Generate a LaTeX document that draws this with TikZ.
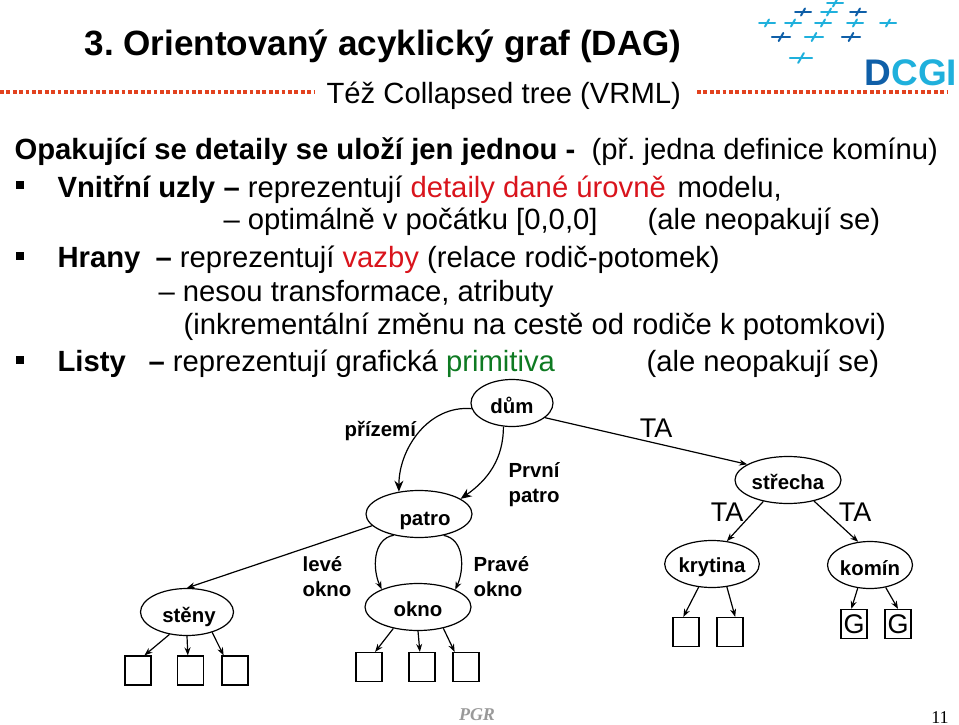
\documentclass[tikz,border=0pt]{standalone}
\usepackage{fontspec}
\setmainfont{Liberation Sans}
\newfontfamily\serifpart{Liberation Serif}
\usetikzlibrary{arrows.meta}
\usetikzlibrary{shapes.geometric}
\definecolor{redtext}{HTML}{D9141C}
\definecolor{greentext}{HTML}{0E7A22}
\definecolor{dotred}{HTML}{E2421F}
\definecolor{logodark}{HTML}{0F5FA8}
\definecolor{logolight}{HTML}{1FB0DC}
\frenchspacing
\tikzset{
  body/.style={anchor=base west,inner sep=0pt,font=\fontsize{29.25}{29.25}\selectfont},
  heavy/.style={body,font=\fontsize{29.25}{29.25}\selectfont\bfseries},
  lab/.style={anchor=base west,inner sep=0pt,align=left,font=\fontsize{20.4}{25}\selectfont\bfseries},
  ta/.style={inner sep=0pt,font=\fontsize{27}{27}\selectfont},
  elli/.style={draw,ellipse,inner sep=0pt,minimum height=47,text height=20,text depth=0,font=\fontsize{20.4}{20.4}\selectfont\bfseries},
  leaf/.style={draw,rectangle,inner sep=0pt,minimum width=26,minimum height=29,font=\fontsize{27}{27}\selectfont},
  bullet/.style={fill,rectangle,inner sep=0pt,minimum size=8},
  dots/.style={dotred,line width=4.5,dash pattern=on 3.8 off 2.6},
  tick/.style={line width=2,line cap=round},
  bigtip/.style={-{Stealth[length=11,width=9]}}
}
\begin{document}
\begin{tikzpicture}[x=1pt,y=-1pt,>={Stealth[length=8,width=6]},line width=1.2]
      \useasboundingbox (0,0) rectangle (959,725);
      % heading
      \node (title) [anchor=base west,inner sep=0pt,font=\fontsize{35.1}{35.1}\selectfont\bfseries] at (84,56) {3. Orientovaný acyklický graf (DAG)};
      \node (subtitle) [body] at (326,103) {Též Collapsed tree (VRML)};
      \coordinate (dotsA) at (0,92);
      \coordinate (dotsB) at (315,92);
      \coordinate (dotsC) at (697,92);
      \coordinate (dotsD) at (948,92);
      \draw[dots] (dotsA) -- (dotsB);
      \draw[dots] (dotsC) -- (dotsD);
      % logo
      \foreach \px/\py/\pc/\ps in {835/3/logolight/1,803/12/logodark/1,829/12/logolight/1,858/12/logodark/1,767/23/logolight/1,793/23/logolight/1,823/23/logolight/1,855/23/logolight/1,888/23/logolight/1,781/37/logodark/1.15,814/37/logolight/1.15,851/37/logodark/1.15,801/58/logolight/1.4}{
        \draw[tick,\pc] (\px-8*\ps,\py) -- (\px+8*\ps,\py);
        \draw[tick,\pc] (\px-2*\ps,\py+3.5*\ps) -- (\px+2*\ps,\py-3.5*\ps);
      }
      \node (logo) [anchor=base west,inner sep=0pt,font=\fontsize{37}{37}\selectfont\bfseries] at (864,85) {\textcolor{logodark}{D}\textcolor{logolight}{CGI}};
      % text
      \node (intro) [heavy] at (14,159) {Opakující se detaily se uloží jen jednou -};
      \node (introb) [body] at (591,159) {(př. jedna definice komínu)};
      \node (markA) [bullet] at (20,185) {};
      \node (inner) [heavy] at (57,197) {Vnitřní uzly};
      \node (innerb) [body] at (223,197) {{\bfseries --} reprezentují \textcolor{redtext}{detaily dané úrovně}};
      \node (innerd) [body] at (677,197) {modelu,};
      \node (innerc) [body] at (223,229) {-- optimálně v počátku [0,0,0]};
      \node (innere) [body] at (647,229) {(ale neopakují se)};
      \node (markB) [bullet] at (20,256) {};
      \node (edges) [heavy] at (57,267) {Hrany};
      \node (edgesb) [body] at (155,267) {{\bfseries --} reprezentují \textcolor{redtext}{vazby} (relace rodič-potomek)};
      \node (edgesc) [body] at (158,301) {-- nesou transformace, atributy};
      \node (edgesd) [body] at (183,334) {(inkrementální změnu na cestě od rodiče k potomkovi)};
      \node (markC) [bullet] at (20,360) {};
      \node (leaves) [heavy] at (57,371) {Listy};
      \node (leavesb) [body] at (148,371) {{\bfseries --} reprezentují grafická \textcolor{greentext}{primitiva}};
      \node (leavesc) [body] at (646,371) {(ale neopakují se)};
      % tree
      \node (dum) [elli,minimum width=82] at (512,403) {dům};
      \node (patro) [elli,minimum width=106,text height=22] at (419,514) {\hspace{12pt}patro};
      \node (steny) [elli,minimum width=93] at (187,612) {\hspace{4pt}stěny};
      \node (okno) [elli,minimum width=106,text height=18] at (418,607) {okno};
      \node (strecha) [elli,minimum width=106,text height=18] at (788,480) {střecha};
      \node (krytina) [elli,minimum width=82,text height=17] at (712,564) {krytina};
      \node (komin) [elli,minimum width=82,text height=21] at (870,565) {komín};
      \node (s1) [leaf] at (138,670.5) {};
      \node (s2) [leaf] at (190.5,670.5) {};
      \node (s3) [leaf] at (235,670.5) {};
      \node (o1) [leaf] at (369,667) {};
      \node (o2) [leaf] at (422,667) {};
      \node (o3) [leaf] at (466,667) {};
      \node (k1) [leaf] at (686,632) {};
      \node (k2) [leaf] at (730,632) {};
      \node (g1) [leaf] at (854,624) {G};
      \node (g2) [leaf] at (898,624) {G};
      \draw[bigtip] (dum.188) to[out=175,in=90] (patro.132);
      \draw[bigtip] (dum.250) to[out=-90,in=35] (patro.20);
      \draw[->] (dum.-24) -- (strecha.159);
      \draw[->] (patro.194) -- (steny.north);
      \draw[->] (patro.220) to[out=190,in=115] (okno.154);
      \draw[->] (patro.-41) to[out=-10,in=65] (okno.25);
      \draw[->] (steny.-128) -- (s1.67);
      \draw[->] (steny.south) -- (s2.100);
      \draw[->] (steny.-39) -- (s3.127);
      \draw[->] (okno.221) -- (o1.68);
      \draw[->] (okno.south) -- (o2.98);
      \draw[->] (okno.-40) -- (o3.127);
      \draw[->] (strecha.221) -- (krytina.57);
      \draw[->] (strecha.-39) -- (komin.117);
      \draw[->] (krytina.240) -- (k1.100);
      \draw[->] (krytina.-57) -- (k2.71);
      \draw[->] (komin.242) -- (g1.100);
      \draw[->] (komin.-55) -- (g2.north);
      % labels
      \node (lprizemi) [lab] at (344,436) {přízemí};
      \node (lprvni) [lab] at (508,502) {První\\patro};
      \node (llevy) [lab] at (302,596) {levé\\okno};
      \node (lpravy) [lab] at (473,596) {Pravé\\okno};
      \node (ta1) [ta] at (656,428) {TA};
      \node (ta2) [ta] at (727,512) {TA};
      \node (ta3) [ta] at (855,512) {TA};
      % footer
      \node (pgr) [anchor=base,inner sep=0pt,text=gray!80,font=\fontsize{18}{18}\serifpart\bfseries\itshape] at (477,720) {PGR};
      \node (pageno) [anchor=base,inner sep=0pt,font=\fontsize{18}{18}\serifpart] at (940,723) {11};
    \end{tikzpicture}
\end{document}
